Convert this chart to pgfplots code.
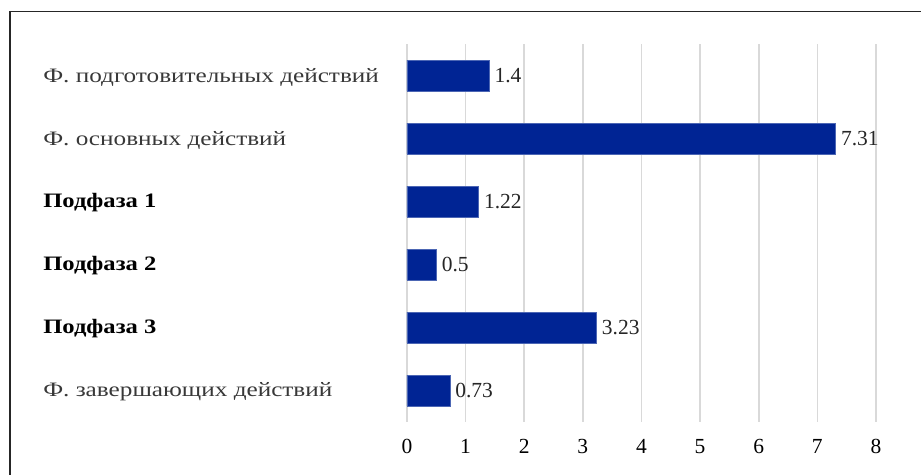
\documentclass[border=0pt]{standalone}
\usepackage{fontspec}
\setmainfont{Liberation Serif}
\newfontfamily\labfont[FakeStretch=1.2]{Liberation Serif}
\newfontfamily\labfontwide[FakeStretch=1.23]{Liberation Serif}
\usepackage{pgfplots}
\pgfplotsset{compat=1.18}
\definecolor{barblue}{RGB}{0,36,148}
\definecolor{gridgray}{RGB}{217,217,217}
\begin{document}
\begin{tikzpicture}[x=1pt,y=1pt,font=\fontsize{21.5pt}{24pt}\selectfont]
\useasboundingbox (-407,-52) rectangle (514,422);
\draw[line width=1.5pt,black!85] (-397,-60) -- (-397,410.5) -- (530,410.5);
\begin{axis}[
  at={(0,0)}, anchor=south west,
  scale only axis, width=469pt, height=378pt,
  xmin=0, xmax=8, ymin=-0.5, ymax=5.5,
  y dir=reverse,
  xbar, bar width=31pt,
  axis line style={draw=none},
  major tick style={draw=none},
  xmajorgrids, grid style={gridgray, line width=1.6pt},
  xtick={0,1,...,8},
  ytick={0,1,2,3,4,5},
  yticklabels={{\labfontwide\color{black!78}Ф. подготовительных действий}, {\labfontwide\color{black!78}Ф. основных действий}, \textbf{Подфаза 1}, \textbf{Подфаза 2}, \textbf{Подфаза 3}, {\labfontwide\color{black!78}Ф. завершающих действий}},
  yticklabel style={anchor=west, xshift=-363pt, yshift=-1.5pt, font=\labfont\fontsize{20.5pt}{24pt}\selectfont},
  xticklabel style={yshift=-14pt},
  /pgf/number format/assume math mode=true,
  nodes near coords,
  nodes near coords style={anchor=west, xshift=2pt, text=black!85},
  clip=false,
]
\addplot[fill=barblue, draw=barblue!70!white] coordinates {(1.4,0) (7.31,1) (1.22,2) (0.5,3) (3.23,4) (0.73,5)};
\end{axis}
\end{tikzpicture}
\end{document}
